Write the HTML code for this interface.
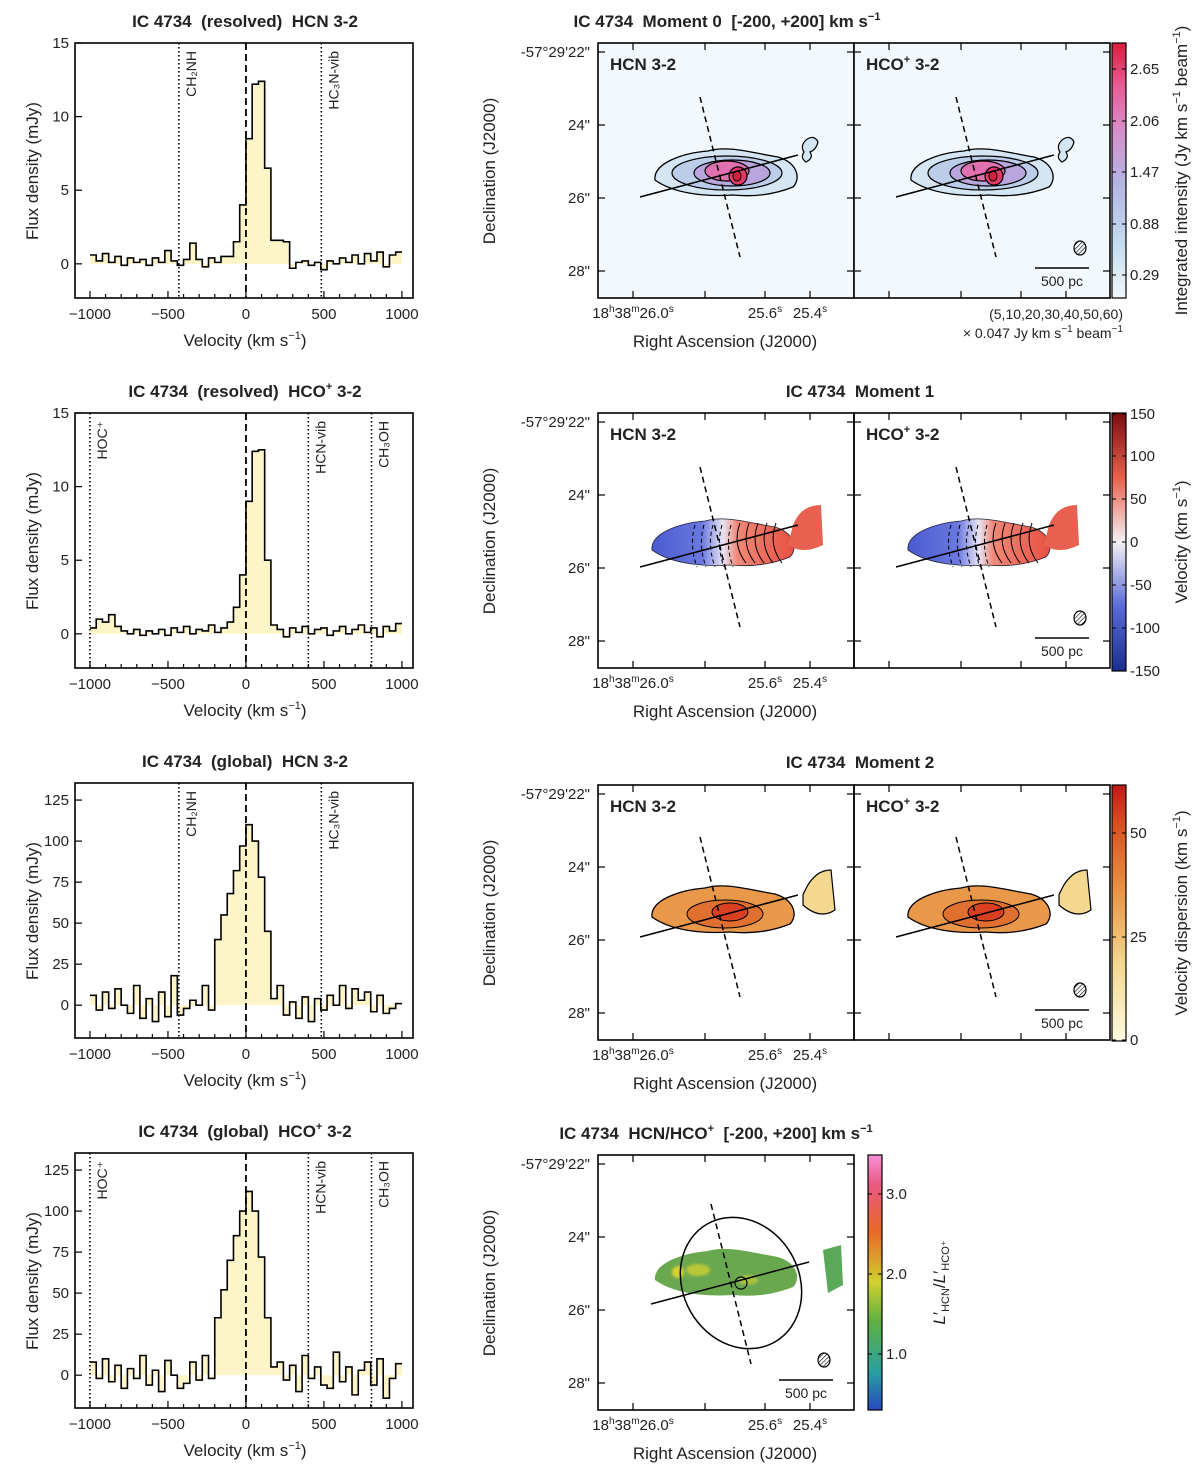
<!DOCTYPE html>
<html><head><meta charset="utf-8"><style>
body{margin:0;background:#fff}
svg{display:block;font-family:"Liberation Sans",sans-serif;fill:#222}
text{white-space:pre}
.t{font-size:17px;font-weight:bold;text-anchor:middle}
.al{font-size:17px;text-anchor:middle}
.tk{font-size:15px}
</style></head><body>
<svg id="fig" width="1200" height="1470" viewBox="0 0 1200 1470" xmlns="http://www.w3.org/2000/svg">
<defs>
<filter id="bl2"><feGaussianBlur stdDeviation="1.2"/></filter>
<linearGradient id="cb0" x1="0" y1="1" x2="0" y2="0"><stop offset="0" stop-color="#f2f8fc"/><stop offset="0.2" stop-color="#c6def0"/><stop offset="0.45" stop-color="#b4b4e4"/><stop offset="0.65" stop-color="#d690cc"/><stop offset="0.82" stop-color="#e8609a"/><stop offset="1" stop-color="#d81e3c"/></linearGradient>
<linearGradient id="cb1" x1="0" y1="1" x2="0" y2="0"><stop offset="0" stop-color="#1a2f8f"/><stop offset="0.25" stop-color="#5a6ad8"/><stop offset="0.5" stop-color="#f4f0f4"/><stop offset="0.75" stop-color="#e8604c"/><stop offset="1" stop-color="#7a0c10"/></linearGradient>
<linearGradient id="cb2" x1="0" y1="1" x2="0" y2="0"><stop offset="0" stop-color="#fefbe0"/><stop offset="0.3" stop-color="#f4d890"/><stop offset="0.6" stop-color="#e89040"/><stop offset="0.85" stop-color="#d85020"/><stop offset="1" stop-color="#c01818"/></linearGradient>
<linearGradient id="cb3" x1="0" y1="1" x2="0" y2="0"><stop offset="0" stop-color="#2848c0"/><stop offset="0.15" stop-color="#2aa0a0"/><stop offset="0.35" stop-color="#60b040"/><stop offset="0.5" stop-color="#d0d030"/><stop offset="0.7" stop-color="#e86828"/><stop offset="0.88" stop-color="#e85880"/><stop offset="1" stop-color="#f890d8"/></linearGradient>
<linearGradient id="vel" x1="0" y1="0" x2="1" y2="0"><stop offset="0" stop-color="#4a5ad0"/><stop offset="0.35" stop-color="#6a78e0"/><stop offset="0.5" stop-color="#e8e4f4"/><stop offset="0.6" stop-color="#f08878"/><stop offset="1" stop-color="#e85040"/></linearGradient>
<pattern id="hatch" width="3" height="3" patternUnits="userSpaceOnUse" patternTransform="rotate(45)"><line x1="0" y1="0" x2="0" y2="3" stroke="#000" stroke-width="1.2"/></pattern>
</defs>
<g id="spectra"></g>
<g id="maps"></g>
</svg>
<script>
// ---- spectra data (velocity bins: start -1000 km/s, width 40 km/s) ----
const vStart = -1000;
const vStep = 40;
const hcnRes = [0.6,0.2,0.7,0.1,0.5,-0.1,0.4,0.1,0.3,-0.1, 0.4,0.1,0.9,0.2,-0.1,0.3,1.4,0.3,-0.2,0.4, 0.1,0.5,0.5,1.5,4.0,8.5,12.2,12.4,6.5,1.6, 1.6,1.5,-0.3,0.1,0.2,-0.1,0.1,-0.4,0.2,0.0, 0.4,0.1,0.6,0.0,0.7,0.2,0.8,-0.2,0.6,0.8];
const hcoRes = [0.4,1.0,0.8,1.3,0.5,0.2,0.0,0.3,-0.1,0.2, 0.0,0.3,-0.1,0.4,0.1,0.5,0.0,0.3,0.2,0.6, 0.1,0.4,0.8,1.8,4.0,9.0,12.4,12.5,5.0,0.6, 0.3,-0.2,0.4,0.1,0.5,0.0,0.3,0.4,-0.1,0.2, 0.5,0.0,0.3,0.6,0.1,0.4,-0.2,0.5,0.2,0.7];
const hcnGlob = [6,-3,8,-2,10,0,-5,12,-8,4, -10,8,-7,18,-6,-2,3,0,12,-3, 40,55,68,82,97,110,100,78,45,4, 12,-6,2,-8,5,-10,4,-3,6,0, 12,-2,10,3,8,-4,6,-5,-2,1];
const hcoGlob = [8,-2,10,-4,6,-8,4,-2,12,-6, 3,-10,9,0,-8,-5,8,-3,12,-2, 35,52,70,85,100,112,100,72,35,5, 8,-3,6,-10,12,-2,5,-6,-8,14, -4,5,-12,3,8,-6,10,-14,-2,7];
const xTicks = [-1000,-500,0,500,1000];
const yTicksRes = [0,5,10,15];
const yTicksGlob = [0,25,50,75,100,125];
const linesHCN = [["CH₂NH",-430],["HC₃N-vib",483]];
const linesHCO = [["HOC⁺",-1000],["HCN-vib",400],["CH₃OH",805]];

const NS="http://www.w3.org/2000/svg";
function el(tag,attrs,parent,txt){const e=document.createElementNS(NS,tag);for(const k in attrs)e.setAttribute(k,attrs[k]);if(txt!==undefined)e.textContent=txt;parent.appendChild(e);return e;}

const X0=75,X1=413,VMIN=-1096,VMAX=1071;
function sx(v){return X0+(v-VMIN)/(VMAX-VMIN)*(X1-X0);}

function spectrum(top,ymin,ymax,yt,data,lines,title,name){
  const g=el('g',{},document.getElementById('spectra'));
  
  
  const bot=top+255;
  const sy=v=>bot-(v-ymin)/(ymax-ymin)*255;
  let pts=[];
  data.forEach((val,i)=>{const a=sx(vStart+i*vStep),b=sx(vStart+(i+1)*vStep);pts.push(a+','+sy(val),b+','+sy(val));});
  const fill=el('path',{d:'M'+sx(vStart)+','+sy(0)+' L'+pts.join(' L')+' L'+sx(vStart+data.length*vStep)+','+sy(0)+'Z',fill:'#fdf5c8',stroke:'none'},g);
  
  
  lines.forEach(l=>{
    const ln=el('line',{x1:sx(l[1]),x2:sx(l[1]),y1:top,y2:bot,stroke:'#000','stroke-width':1.6,'stroke-dasharray':'1.5 2.5'},g);
    
    
    const tx=sx(l[1])+17;
    const t=el('text',{x:tx,y:top+8,'font-size':14,'text-anchor':'end',transform:'rotate(-90 '+tx+' '+(top+8)+')'},g,l[0]);
    
    
  });
  const z=el('line',{x1:sx(0),x2:sx(0),y1:top,y2:bot,stroke:'#000','stroke-width':1.8,'stroke-dasharray':'7 4'},g);
  
  
  const st=el('path',{d:'M'+pts.join(' L'),fill:'none',stroke:'#000','stroke-width':1.6},g);
  
  
  const fr=el('rect',{x:X0,y:top,width:X1-X0,height:255,fill:'none',stroke:'#000','stroke-width':1.6},g);
  
  
  for(let v=-1000;v<=1000;v+=100){const big=v%500===0;el('line',{x1:sx(v),x2:sx(v),y1:bot,y2:bot-(big?7:4),stroke:'#000','stroke-width':1.2},g);}
  xTicks.forEach(v=>{const t=el('text',{x:sx(v),y:bot+21,'text-anchor':'middle',class:'tk'},g,v<0?'−'+(-v):''+v);});
  yt.forEach(v=>{el('line',{x1:X0,x2:X0+7,y1:sy(v),y2:sy(v),stroke:'#000','stroke-width':1.2},g);const t=el('text',{x:X0-6,y:sy(v)+5,'text-anchor':'end',class:'tk'},g,''+v);});
  const xl=el('text',{x:245,y:bot+48,class:'al'},g);
  xl.innerHTML='Velocity (km s<tspan dy="-7" font-size="11">−1</tspan><tspan dy="7">)</tspan>';
  
  
  const yl=el('text',{x:38,y:top+128,class:'al',transform:'rotate(-90 38 '+(top+128)+')'},g,'Flux density (mJy)');
  
  
  const tt=el('text',{x:245,y:top-16,class:'t'},g);
  tt.innerHTML=title;
  
  
}
spectrum(43,-2.32,15,yTicksRes,hcnRes,linesHCN,'IC 4734  (resolved)  HCN 3-2','spectrum-hcn-resolved');
spectrum(413,-2.32,15,yTicksRes,hcoRes,linesHCO,'IC 4734  (resolved)  HCO<tspan dy="-7" font-size="11">+</tspan><tspan dy="7"> 3-2</tspan>','spectrum-hco-resolved');
spectrum(783,-20,135.4,yTicksGlob,hcnGlob,linesHCN,'IC 4734  (global)  HCN 3-2','spectrum-hcn-global');
spectrum(1153,-20,135.4,yTicksGlob,hcoGlob,linesHCO,'IC 4734  (global)  HCO<tspan dy="-7" font-size="11">+</tspan><tspan dy="7"> 3-2</tspan>','spectrum-hco-global');

// ---- maps ----
const M=document.getElementById('maps');
const blobPath=(cx,cy)=>`M${cx-88},${cy+5} C${cx-90},${cy-12} ${cx-60},${cy-22} ${cx-35},${cy-24} C${cx-15},${cy-30} ${cx+10},${cy-22} ${cx+35},${cy-18} C${cx+55},${cy-12} ${cx+58},${cy+4} ${cx+50},${cy+12} C${cx+30},${cy+20} ${cx+10},${cy+22} ${cx-10},${cy+20} C${cx-40},${cy+22} ${cx-70},${cy+18} ${cx-88},${cy+5}Z`;
function axesMap(x,y,w,label,showY,showX,g){
  const r=el('rect',{x:x,y:y,width:w,height:255,fill:'none',stroke:'#000','stroke-width':1.6},g);
  
  
  [52,125,198,271].forEach(yy=>{el('line',{x1:x,x2:x+7,y1:y+yy-43,y2:y+yy-43,stroke:'#000','stroke-width':1.2},g);el('line',{x1:x+w,x2:x+w-7,y1:y+yy-43,y2:y+yy-43,stroke:'#000','stroke-width':1.2},g);});
  [633,705,765,810].forEach(xx=>{const xv=x+xx-598;el('line',{x1:xv,x2:xv,y1:y+255,y2:y+248,stroke:'#000','stroke-width':1.2},g);el('line',{x1:xv,x2:xv,y1:y,y2:y+7,stroke:'#000','stroke-width':1.2},g);});
  const t=el('text',{x:x+12,y:y+27,'font-size':17,'font-weight':'bold'},g);
  t.innerHTML=label;
  
  
  if(showY){
    [['-57°29\'22"',52],['24"',125],['26"',198],['28"',271]].forEach(a=>{const tt=el('text',{x:x-8,y:y+a[1]-43+5,'text-anchor':'end',class:'tk'},g,a[0]);});
    const yl=el('text',{x:x-103,y:y+128,class:'al',transform:`rotate(-90 ${x-103} ${y+128})`},g,'Declination (J2000)');
    
    
  }
  if(showX){
    const a=el('text',{x:x+35,y:y+275,'text-anchor':'middle',class:'tk'},g);
    a.innerHTML='18<tspan dy="-6" font-size="10">h</tspan><tspan dy="6">38</tspan><tspan dy="-6" font-size="10">m</tspan><tspan dy="6">26.0</tspan><tspan dy="-6" font-size="10">s</tspan>';
    
    [['25.6',167],['25.4',212]].forEach(b=>{const tt=el('text',{x:x+b[1],y:y+275,'text-anchor':'middle',class:'tk'},g);tt.innerHTML=b[0]+'<tspan dy="-6" font-size="10">s</tspan>';});
    const xl=el('text',{x:x+127,y:y+304,class:'al'},g,'Right Ascension (J2000)');
    
    
  }
}
function axesLines(cx,cy,g){
  el('line',{x1:cx-90,y1:cy+19,x2:cx+68,y2:cy-23,stroke:'#000','stroke-width':1.5},g);
  el('line',{x1:cx-30,y1:cy-81,x2:cx+10,y2:cy+79,stroke:'#000','stroke-width':1.5,'stroke-dasharray':'6 4'},g);
}
function beamScale(x,y,g){
  el('ellipse',{cx:x+226,cy:y+205,rx:6,ry:7,fill:'url(#hatch)',stroke:'#000','stroke-width':1.2},g);
  el('line',{x1:x+181,x2:x+235,y1:y+225,y2:y+225,stroke:'#000','stroke-width':1.4},g);
  el('text',{x:x+208,y:y+243,'text-anchor':'middle','font-size':14},g,'500 pc');
}
function colorbar(x,y,h,grad,ticks,label,labx,g){
  const r=el('rect',{x:x,y:y,width:14,height:h,fill:'url(#'+grad+')',stroke:'#000','stroke-width':1.2},g);
  
  
  ticks.forEach(t=>{el('line',{x1:x,x2:x+4,y1:t[1],y2:t[1],stroke:'#000'},g);el('line',{x1:x+14,x2:x+10,y1:t[1],y2:t[1],stroke:'#000'},g);const tt=el('text',{x:x+18,y:t[1]+5,class:'tk'},g,t[0]);});
  const cy=y+h/2;
  const l=el('text',{x:labx,y:cy,class:'al',transform:`rotate(-90 ${labx} ${cy})`},g);
  l.innerHTML=label;
  
  
}
const sup='<tspan dy="-7" font-size="11">+</tspan><tspan dy="7"> 3-2</tspan>';
// Row 1 moment 0
(function(){
  const g=el('g',{},M);
  [598,854].forEach((x,k)=>{
    el('rect',{x:x,y:43,width:256,height:255,fill:'#f3f8fc'},g);
    const cx=x+137,cy=175;
    el('path',{d:blobPath(cx+8,cy),fill:'#d4e6f4',stroke:'#000','stroke-width':1.3},g);
    el('ellipse',{cx:cx-8,cy:cy-2,rx:55,ry:17,fill:'#bccdea',stroke:'#000','stroke-width':1.2},g);
    el('ellipse',{cx:cx-3,cy:cy-2,rx:38,ry:13,fill:'#b8a6dc',stroke:'#000','stroke-width':1.2},g);
    el('ellipse',{cx:cx-8,cy:cy-4,rx:22,ry:10,fill:'#e070b0',stroke:'#000','stroke-width':1.2},g);
    el('ellipse',{cx:cx+3,cy:cy+1,rx:9,ry:9,fill:'#e23a68',stroke:'#000','stroke-width':1.2},g);
    el('ellipse',{cx:cx+2,cy:cy+1,rx:4,ry:5,fill:'#d81e3c',stroke:'#000','stroke-width':1},g);
    el('path',{d:`M${x+208},${140} q8,-6 12,2 q-2,8 -8,10 q4,6 -4,10 q-6,-4 -2,-10 q-4,-6 2,-12z`,fill:'#d4e6f4',stroke:'#000','stroke-width':1.2},g);
    axesLines(x+132,178,g);
    if(k==1)beamScale(x,43,g);
    axesMap(x,43,256,k?'HCO'+sup:'HCN 3-2',k==0,k==0,g);
  });
  colorbar(1112,43,255,'cb0',[['2.65',69],['2.06',121],['1.47',172],['0.88',224],['0.29',275]],'Integrated intensity (Jy km s<tspan dy="-7" font-size="11">−1</tspan><tspan dy="7"> beam</tspan><tspan dy="-7" font-size="11">−1</tspan><tspan dy="7">)</tspan>',1187,g);
  el('text',{x:727,y:27,class:'t'},g).innerHTML='IC 4734  Moment 0  [-200, +200] km s<tspan dy="-7" font-size="11">−1</tspan>';
  el('text',{x:1123,y:319,'text-anchor':'end','font-size':14},g,'(5,10,20,30,40,50,60)');
  el('text',{x:1123,y:338,'text-anchor':'end','font-size':14},g).innerHTML='× 0.047 Jy km s<tspan dy="-6" font-size="10">−1</tspan><tspan dy="6"> beam</tspan><tspan dy="-6" font-size="10">−1</tspan>';
})();
// Row 2 moment 1
(function(){
  const g=el('g',{},M);
  [598,854].forEach((x,k)=>{
    const cx=x+137,cy=545;
    el('path',{d:blobPath(cx+5,cy),fill:'url(#vel)',stroke:'#223','stroke-width':0.8},g);
    el('path',{d:`M${x+195},${525} q8,-20 28,-20 l2,40 q-20,10 -35,0z`,fill:'#e86050'},g);
    for(let i=0;i<5;i++){el('path',{d:`M${cx-40+i*9},${cy-20} q-6,20 2,42`,fill:'none',stroke:'#000','stroke-width':1,'stroke-dasharray':'4 3'},g);el('path',{d:`M${cx+5+i*9},${cy-22} q-8,22 6,40`,fill:'none',stroke:'#000','stroke-width':1},g);}
    axesLines(x+132,548,g);
    if(k==1)beamScale(x,413,g);
    axesMap(x,413,256,k?'HCO'+sup:'HCN 3-2',k==0,k==0,g);
  });
  colorbar(1112,413,258,'cb1',[['150',414],['100',456],['50',499],['0',542],['-50',585],['-100',628],['-150',671]],'Velocity (km s<tspan dy="-7" font-size="11">−1</tspan><tspan dy="7">)</tspan>',1187,g);
  el('text',{x:860,y:397,class:'t'},g,'IC 4734  Moment 1');
})();
// Row 3 moment 2
(function(){
  const g=el('g',{},M);
  [598,854].forEach((x,k)=>{
    const cx=x+137,cy=912;
    el('path',{d:blobPath(cx+5,cy),fill:'#e89848',stroke:'#000','stroke-width':1.3},g);
    el('ellipse',{cx:cx-10,cy:cy+2,rx:38,ry:14,fill:'#e07030',stroke:'#000','stroke-width':1},g);
    el('ellipse',{cx:cx-5,cy:cy,rx:18,ry:9,fill:'#d84020',stroke:'#000','stroke-width':1},g);
    el('path',{d:`M${x+205},${895} q10,-25 28,-25 l4,40 q-15,10 -32,-5z`,fill:'#f4d890',stroke:'#000','stroke-width':1.2},g);
    axesLines(x+132,918,g);
    if(k==1)beamScale(x,785,g);
    axesMap(x,785,256,k?'HCO'+sup:'HCN 3-2',k==0,k==0,g);
  });
  colorbar(1112,785,256,'cb2',[['50',833],['25',937],['0',1040]],'Velocity dispersion (km s<tspan dy="-7" font-size="11">−1</tspan><tspan dy="7">)</tspan>',1187,g);
  el('text',{x:860,y:768,class:'t'},g,'IC 4734  Moment 2');
})();
// Row 4 ratio
(function(){
  const g=el('g',{},M);
  const x=598;
  el('path',{d:blobPath(x+145,1275),fill:'#6aa84f'},g);
  el('ellipse',{cx:x+100,cy:1270,rx:12,ry:6,fill:'#b8c838',filter:'url(#bl2)'},g);
  el('ellipse',{cx:x+150,cy:1280,rx:10,ry:5,fill:'#a8c040',filter:'url(#bl2)'},g);
  el('ellipse',{cx:x+80,cy:1272,rx:6,ry:6,fill:'#d8d030',filter:'url(#bl2)'},g);
  el('path',{d:`M${x+225},${1250} l18,-5 l2,40 l-15,8 z`,fill:'#5aa858'},g);
  el('ellipse',{cx:741,cy:1283,rx:58,ry:68,fill:'none',stroke:'#000','stroke-width':1.5,transform:'rotate(-30 741 1283)'},g);
  el('circle',{cx:741,cy:1283,r:6,fill:'none',stroke:'#000','stroke-width':1.2},g);
  axesLines(x+143,1285,g);
  beamScale(x,1155,g);
  axesMap(x,1155,256,'',true,true,g);
  colorbar(868,1155,255,'cb3',[['3.0',1194],['2.0',1274],['1.0',1354]],'<tspan font-style="italic">L</tspan>′<tspan dy="4" font-size="11">HCN</tspan><tspan dy="-4">/</tspan><tspan font-style="italic">L</tspan>′<tspan dy="4" font-size="11">HCO⁺</tspan>',945,g);
  el('text',{x:716,y:1139,class:'t'},g).innerHTML='IC 4734  HCN/HCO<tspan dy="-7" font-size="11">+</tspan><tspan dy="7">  [-200, +200] km s</tspan><tspan dy="-7" font-size="11">−1</tspan>';
})();
</script>
</body></html>
